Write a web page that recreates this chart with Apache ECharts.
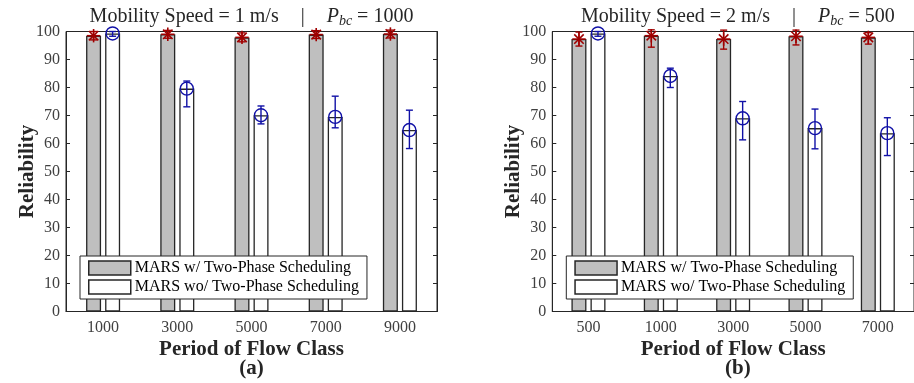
<!DOCTYPE html>
<html>
<head>
<meta charset="utf-8">
<script src="https://cdn.jsdelivr.net/npm/echarts@6/dist/echarts.min.js"></script>
<style>
  html, body { margin: 0; padding: 0; background: #fff; }
  #chart { width: 914px; height: 383px; }
</style>
</head>
<body>
<div id="chart"></div>
<script>
// Panel (a): mobility speed 1 m/s, P_bc = 1000
const periodsA = ['1000', '3000', '5000', '7000', '9000'];
const withA = [98.5, 99.0, 97.9, 98.9, 99.1];
const withLoA = [97.0, 97.6, 96.3, 97.5, 97.7];
const withHiA = [100.0, 100.4, 99.5, 100.3, 100.5];
const withoutA = [99.3, 79.6, 70.1, 69.5, 64.8];
const withoutLoA = [98.3, 73.1, 67.0, 65.6, 58.2];
const withoutHiA = [100.0, 82.3, 73.4, 76.9, 71.9];

// Panel (b): mobility speed 2 m/s, P_bc = 500
const periodsB = ['500', '1000', '3000', '5000', '7000'];
const withB = [97.3, 98.5, 97.3, 98.3, 97.9];
const withLoB = [94.8, 94.4, 93.7, 95.2, 95.5];
const withHiB = [99.8, 100.6, 100.5, 100.5, 99.6];
const withoutB = [99.3, 84.1, 69.0, 65.5, 63.7];
const withoutLoB = [98.3, 80.0, 61.3, 58.1, 55.7];
const withoutHiB = [100.0, 86.9, 75.0, 72.3, 69.2];

const yTicks = [0, 10, 20, 30, 40, 50, 60, 70, 80, 90, 100];

const NAME_WITH = 'MARS w/ Two-Phase Scheduling';
const NAME_WITHOUT = 'MARS wo/ Two-Phase Scheduling';

const SERIF = '"Liberation Serif", "DejaVu Serif", serif';
const INK = '#262626';
const RED = '#a00000';
const BLUE = '#1010a6';
const BAR_W = 15;
const BAR_OFF = 9.5;

const panels = [
  { left: 66, periods: periodsA, w: withA, wLo: withLoA, wHi: withHiA,
    wo: withoutA, woLo: withoutLoA, woHi: withoutHiA, speed: '1', pbc: '1000', tag: '(a)' },
  { left: 552.3, periods: periodsB, w: withB, wLo: withLoB, wHi: withHiB,
    wo: withoutB, woLo: withoutLoB, woHi: withoutHiB, speed: '2', pbc: '500', tag: '(b)' }
];
const GRID_TOP = 31.5, GRID_H = 280, GRID_W = 371;

// error bar with caps plus a marker, shifted sideways onto its bar
function errorRenderer(offset, marker, color) {
  return function (params, api) {
    const i = api.value(0);
    const pv = api.coord([i, api.value(1)]);
    const pl = api.coord([i, api.value(2)]);
    const ph = api.coord([i, api.value(3)]);
    const x = pv[0] + offset;
    const cap = 3.5;
    const st = { stroke: color, lineWidth: 1.4, fill: null };
    const kids = [
      { type: 'line', shape: { x1: x, y1: pl[1], x2: x, y2: ph[1] }, style: st },
      { type: 'line', shape: { x1: x - cap, y1: pl[1], x2: x + cap, y2: pl[1] }, style: st },
      { type: 'line', shape: { x1: x - cap, y1: ph[1], x2: x + cap, y2: ph[1] }, style: st }
    ];
    if (marker === 'circle') {
      kids.push({ type: 'circle', shape: { cx: x, cy: pv[1], r: 6.5 }, style: st });
    } else {
      const r = 6.7, d = r * 0.7071;
      const ss = { stroke: color, lineWidth: 1.6, fill: null };
      kids.push({ type: 'line', shape: { x1: x, y1: pv[1] - r, x2: x, y2: pv[1] + r }, style: ss });
      kids.push({ type: 'line', shape: { x1: x - r, y1: pv[1], x2: x + r, y2: pv[1] }, style: ss });
      kids.push({ type: 'line', shape: { x1: x - d, y1: pv[1] - d, x2: x + d, y2: pv[1] + d }, style: ss });
      kids.push({ type: 'line', shape: { x1: x - d, y1: pv[1] + d, x2: x + d, y2: pv[1] - d }, style: ss });
    }
    return { type: 'group', children: kids };
  };
}

const grid = [], xAxis = [], yAxis = [], series = [], legend = [], title = [];

panels.forEach((p, k) => {
  grid.push({ left: p.left, top: GRID_TOP, width: GRID_W, height: GRID_H,
    show: true, borderColor: INK, borderWidth: 1, backgroundColor: 'transparent' });

  xAxis.push({
    type: 'category', gridIndex: k, data: p.periods,
    axisLine: { lineStyle: { color: INK, width: 1 } },
    axisTick: { show: false },
    axisLabel: { fontFamily: SERIF, fontSize: 16, color: '#404040', margin: 8 },
    name: 'Period of Flow Class', nameLocation: 'middle', nameGap: 28, nameMoveOverlap: false,
    nameTextStyle: { fontFamily: SERIF, fontWeight: 'bold', fontSize: 21, color: INK }
  });

  yAxis.push({
    type: 'value', gridIndex: k, min: 0, max: 100, interval: 10,
    axisLine: { show: true, lineStyle: { color: INK, width: 1 } },
    axisTick: { show: true, inside: true, length: 4, lineStyle: { color: INK } },
    splitLine: { show: false },
    axisLabel: { fontFamily: SERIF, fontSize: 16, color: '#404040', margin: 6,
      formatter: v => (yTicks.indexOf(v) >= 0 ? String(v) : '') },
    name: 'Reliability', nameLocation: 'middle', nameGap: 28, nameRotate: 90, nameMoveOverlap: false,
    nameTextStyle: { fontFamily: SERIF, fontWeight: 'bold', fontSize: 21, color: INK }
  });
  yAxis.push({
    type: 'value', gridIndex: k, position: 'right', min: 0, max: 100, interval: 10,
    axisLine: { show: true, lineStyle: { color: INK, width: 1 } },
    axisTick: { show: true, inside: true, length: 4, lineStyle: { color: INK } },
    splitLine: { show: false }, axisLabel: { show: false }
  });

  series.push({
    name: NAME_WITH, type: 'bar', xAxisIndex: k, yAxisIndex: 2 * k,
    data: p.w, barWidth: BAR_W, barGap: '27%',
    itemStyle: { color: '#bfbfbf', borderColor: INK, borderWidth: 1.3 },
    emphasis: { disabled: true }, silent: true
  });
  series.push({
    name: NAME_WITHOUT, type: 'bar', xAxisIndex: k, yAxisIndex: 2 * k,
    data: p.wo, barWidth: BAR_W, barGap: '27%',
    itemStyle: { color: '#ffffff', borderColor: INK, borderWidth: 1.3 },
    emphasis: { disabled: true }, silent: true
  });
  series.push({
    type: 'custom', xAxisIndex: k, yAxisIndex: 2 * k, clip: false, z: 5, silent: true,
    renderItem: errorRenderer(-BAR_OFF, 'star', RED),
    data: p.w.map((v, i) => [i, v, p.wLo[i], p.wHi[i]])
  });
  series.push({
    type: 'custom', xAxisIndex: k, yAxisIndex: 2 * k, clip: false, z: 5, silent: true,
    renderItem: errorRenderer(BAR_OFF, 'circle', BLUE),
    data: p.wo.map((v, i) => [i, v, p.woLo[i], p.woHi[i]])
  });

  legend.push({
    data: [NAME_WITH, NAME_WITHOUT], orient: 'vertical',
    left: p.left + 14, top: 256,
    backgroundColor: '#fff', borderColor: INK, borderWidth: 1,
    padding: [4, 8, 4, 8], itemGap: 3, itemWidth: 42, itemHeight: 14,
    itemStyle: { borderColor: INK, borderWidth: 1.5 },
    icon: 'rect', selectedMode: false,
    textStyle: { fontFamily: SERIF, fontSize: 16, color: '#000', padding: [0, 0, 0, -1] }
  });

  const cx = p.left + GRID_W / 2;
  title.push({
    text: '{n|Mobility Speed = ' + p.speed + ' m/s}{g| }{n||}{g| }{i|P}{s|bc}{n| = ' + p.pbc + '}',
    left: cx, top: 6, textAlign: 'center', padding: 0,
    textStyle: {
      fontWeight: 'normal',
      rich: {
        n: { fontFamily: SERIF, fontSize: 20, fontWeight: 'normal', color: INK, lineHeight: 22 },
        g: { fontFamily: SERIF, fontSize: 20, fontWeight: 'normal', width: 22, lineHeight: 22 },
        i: { fontFamily: SERIF, fontSize: 20, fontWeight: 'normal', fontStyle: 'italic', color: INK, lineHeight: 22 },
        s: { fontFamily: SERIF, fontSize: 14, fontWeight: 'normal', fontStyle: 'italic', color: INK, lineHeight: 12, verticalAlign: 'bottom' }
      }
    }
  });
  title.push({
    text: p.tag, left: cx, top: 358, textAlign: 'center', padding: 0,
    textStyle: { fontFamily: SERIF, fontWeight: 'bold', fontSize: 21, color: INK }
  });
});

const chart = echarts.init(document.getElementById('chart'), null, { renderer: 'canvas' });
chart.setOption({
  animation: false,
  backgroundColor: '#fff',
  title, grid, xAxis, yAxis, series, legend
});
</script>
</body>
</html>
